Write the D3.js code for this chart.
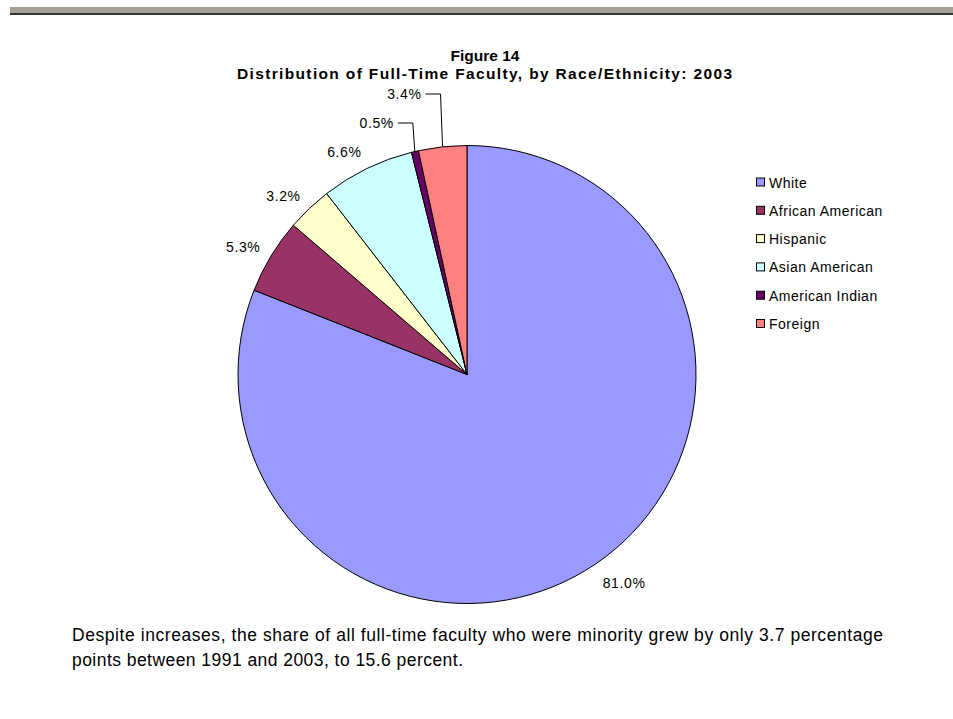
<!DOCTYPE html>
<html>
<head>
<meta charset="utf-8">
<script src="https://cdn.jsdelivr.net/npm/d3@7"></script>
<style>
  html, body { margin: 0; padding: 0; background: #fff; }
  svg { display: block; }
  text { font-family: "Liberation Sans", Arial, sans-serif; fill: #000; }
</style>
</head>
<body>
<svg id="chart" width="953" height="719"></svg>
<script>
// ---- Data ----
const categories = ["White", "African American", "Hispanic", "Asian American", "American Indian", "Foreign"];
const values = [81.0, 5.3, 3.2, 6.6, 0.5, 3.4];
const valueLabels = ["81.0%", "5.3%", "3.2%", "6.6%", "0.5%", "3.4%"];
const colors = ["#9999FF", "#993366", "#FFFFCC", "#CCFFFF", "#660066", "#FF8080"];
const titleLines = ["Figure 14", "Distribution of Full-Time Faculty, by Race/Ethnicity: 2003"];
const captionLines = [
  "Despite increases, the share of all full-time faculty who were minority grew by only 3.7 percentage",
  "points between 1991 and 2003, to 15.6 percent."
];

// ---- Layout ----
const W = 953, H = 719;
const cx = 467, cy = 374.5, R = 229;
const svg = d3.select("#chart");

// fit a text to a target width by font size (capped), then exact with textLength
function fitText(sel, target, maxSize) {
  sel.style("font-size", "20px");
  const w20 = sel.node().getComputedTextLength();
  const s = Math.min(maxSize, 20 * target / w20);
  sel.style("font-size", s + "px").attr("textLength", target).attr("lengthAdjust", "spacing");
  return s;
}

// header band
svg.append("rect").attr("x", 10).attr("y", 7).attr("width", W - 10).attr("height", 6).attr("fill", "#a6a194");
svg.append("rect").attr("x", 10).attr("y", 13).attr("width", W - 10).attr("height", 2).attr("fill", "#333333");

// title
const t2 = svg.append("text").attr("x", 237).attr("y", 79)
  .style("font-weight", "bold").text(titleLines[1]);
const ts = fitText(t2, 495, 15.5);
svg.append("text").attr("x", 485).attr("y", 61).attr("text-anchor", "middle")
  .style("font-size", ts + "px").style("font-weight", "bold").text(titleLines[0]);

// pie
const data = categories.map((c, i) => ({ name: c, value: values[i], label: valueLabels[i], color: colors[i] }));
const pie = d3.pie().value(d => d.value).sort(null).startAngle(0).endAngle(2 * Math.PI);
const arcs = pie(data);
const arc = d3.arc().innerRadius(0).outerRadius(R);
const g = svg.append("g").attr("transform", `translate(${cx},${cy})`);
g.selectAll("path").data(arcs).enter().append("path")
  .attr("d", arc)
  .attr("fill", d => d.data.color)
  .attr("stroke", "#000")
  .attr("stroke-width", 1)
  .attr("stroke-linejoin", "round");

// labels
const leaderLabels = { "American Indian": 123 - cy, "Foreign": 94 - cy };
arcs.forEach(a => {
  const mid = (a.startAngle + a.endAngle) / 2;
  const sx = Math.sin(mid), sy = -Math.cos(mid);
  const ex = sx * (R + 0.5), ey = sy * (R + 0.5);
  const t = g.append("text")
    .attr("dominant-baseline", "central")
    .style("font-size", "14px").style("letter-spacing", "0.6px")
    .text(a.data.label);
  if (leaderLabels[a.data.name] !== undefined) {
    const ly = leaderLabels[a.data.name];
    const elbowX = ex - 2;
    g.append("polyline")
      .attr("points", `${elbowX - 15},${ly} ${elbowX},${ly} ${ex},${ey}`)
      .attr("fill", "none").attr("stroke", "#000").attr("stroke-width", 1);
    t.attr("x", elbowX - 19).attr("y", ly).attr("text-anchor", "end");
  } else {
    const w = t.node().getComputedTextLength();
    const lx = ex + sx * 12 + Math.sign(sx) * w / 2;
    const ly = ey + sy * 20 + 2;
    t.attr("x", lx).attr("y", ly).attr("text-anchor", "middle");
  }
});

// legend
const legendY = d3.scalePoint().domain(categories).range([182.5, 324]);
const lg = svg.append("g");
categories.forEach((c, i) => {
  const y = legendY(c);
  lg.append("rect").attr("x", 756.5).attr("y", y - 4.5).attr("width", 8).attr("height", 8)
    .attr("fill", colors[i]).attr("stroke", "#000").attr("stroke-width", 1);
  lg.append("text").attr("x", 769).attr("y", y).attr("dominant-baseline", "central")
    .style("font-size", "14px").style("letter-spacing", "0.5px").text(c);
});

// caption
const c1 = svg.append("text").attr("x", 72).attr("y", 641).text(captionLines[0]);
const cs = fitText(c1, 811, 17.5);
svg.append("text").attr("x", 72).attr("y", 666)
  .attr("textLength", 391).attr("lengthAdjust", "spacing")
  .style("font-size", cs + "px").text(captionLines[1]);
</script>
</body>
</html>
